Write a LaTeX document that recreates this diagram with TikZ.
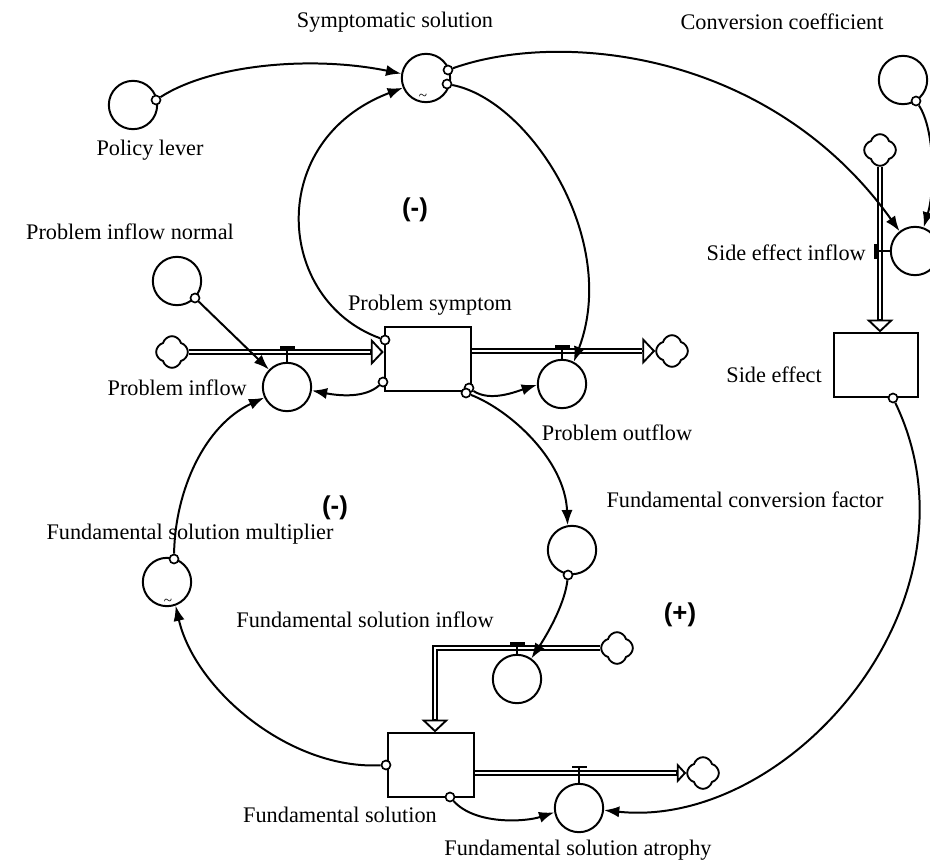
\documentclass[tikz,border=0pt]{standalone}
\usepackage{fontspec}
\setmainfont{Liberation Serif}
\newfontfamily\signfont{Liberation Sans}
\usetikzlibrary{shapes,shapes.symbols,arrows.meta,calc,positioning}

\tikzstyle{line} = [draw, line width=1.7pt, -{Latex[length=13pt,width=9.5pt]}]
\tikzstyle{aux} = [draw, circle, line width=1.7pt, minimum size=1.45cm, inner sep=0pt]
\tikzstyle{stock} = [draw, rectangle, line width=1.6pt, minimum width=2.6cm, minimum height=1.9cm]
\tikzstyle{ring} = [draw, circle, fill=white, line width=1.4pt, minimum size=0.27cm, inner sep=0pt]
\tikzstyle{sky} = [draw, cloud, cloud puffs=4, aspect=1, line width=1.6pt, minimum width=0.95cm, minimum height=0.95cm, inner sep=0pt, fill=white]
\tikzstyle{pipe} = [draw, line width=1.6pt, double=white, double distance=2.4pt]
\tikzstyle{pipetip} = [draw, line width=1.6pt, -{Triangle[open, length=11pt, width=23pt]}]
\tikzstyle{tbar} = [fill=black, rectangle, minimum width=0.45cm, minimum height=0.12cm, inner sep=0pt]
\tikzstyle{lbl} = [font=\fontsize{19}{22}\selectfont, inner sep=0pt]
\tikzstyle{sign} = [font=\signfont\bfseries\fontsize{22}{24}\selectfont, inner sep=0pt]

\begin{document}
\begin{tikzpicture} [x=0.03cm, y=-0.03cm]

        \useasboundingbox (0,0) rectangle (930,867);

        % stocks, valves and converters
        \node[aux] (PL) at (133,105) {};
        \node[aux] (SS) at (426,78) {};
        \node[aux] (CC) at (903,80) {};
        \node[aux] (PIN) at (177,281) {};
        \node[aux] (PI) at (287,387) {};
        \node[stock] (PS) at (428,359) {};
        \node[aux] (PO) at (562,384) {};
        \node[aux] (SEI) at (915,251) {};
        \node[stock, minimum width=2.5cm] (SE) at (876,365) {};
        \node[aux] (FCF) at (572,550) {};
        \node[aux] (FSM) at (167,582) {};
        \node[aux] (FSI) at (517,679) {};
        \node[stock] (FS) at (431,765) {};
        \node[aux] (FSA) at (579,808) {};

        % clouds
        \node[sky] (CL1) at (172,352) {};
        \node[sky] (CL2) at (672,351) {};
        \node[sky] (CL3) at (880,150) {};
        \node[sky] (CL4) at (617,648) {};
        \node[sky] (CL5) at (703,773) {};

        % labels
        \node[lbl] (SSl) at (395,22) {Symptomatic solution};
        \node[lbl] (CCl) at (782,22) {Conversion coefficient};
        \node[lbl] (PLl) at (150,150) {Policy lever};
        \node[lbl] (PINl) at (130,232) {Problem inflow normal};
        \node[lbl, anchor=east] (SEIl) at (866,253) {Side effect inflow};
        \node[lbl] (PSl) at (430,305) {Problem symptom};
        \node[lbl, anchor=east] (PIl) at (247,388) {Problem inflow};
        \node[lbl, anchor=east] (SEl) at (822,375) {Side effect};
        \node[lbl] (POl) at (617,433) {Problem outflow};
        \node[lbl] (FCFl) at (745,500) {Fundamental conversion factor};
        \node[lbl] (FSMl) at (190,534) {Fundamental solution multiplier};
        \node[lbl] (FSIl) at (365,620) {Fundamental solution inflow};
        \node[lbl] (FSl) at (340,815) {Fundamental solution};
        \node[lbl] (FSAl) at (578,850) {Fundamental solution atrophy};
        \node[sign] (L1) at (415,210) {(-)};
        \node[sign] (L2) at (335,508) {(-)};
        \node[sign] (L3) at (680,615) {(+)};
        \node[font=\fontsize{13}{13}\selectfont] (SSt) at (423,97) {\textasciitilde};
        \node[font=\fontsize{13}{13}\selectfont] (FSMt) at (168,602) {\textasciitilde};

        % pipes
        \path[pipe] (CL1) -- ($(PS.west |- CL1)+(-11pt,0)$);
        \path[pipetip] ($(PS.west |- CL1)+(-11.5pt,0)$) -- (PS.west |- CL1);
        \path[pipe] (PS.east |- CL2) -- ($(CL2.west)+(-11pt,0)$);
        \path[pipetip] ($(CL2.west)+(-11.5pt,0)$) -- (CL2.west);
        \path[pipe] (CL3) -- ($(CL3 |- SE.north)+(0,11pt)$);
        \path[pipetip] ($(CL3 |- SE.north)+(0,11.5pt)$) -- (CL3 |- SE.north);
        \coordinate (FSIc) at (435,648);
        \path[pipe] (CL4) -- (FSIc) -- ($(FSIc |- FS.north)+(0,11pt)$);
        \path[pipetip] ($(FSIc |- FS.north)+(0,11.5pt)$) -- (FSIc |- FS.north);
        \path[pipe, line width=2pt, double distance=1.2pt] (FS.east |- CL5) -- ($(CL5.west)+(-8pt,0)$);
        \path[pipetip, -{Triangle[open, length=8pt, width=17pt]}] ($(CL5.west)+(-8.5pt,0)$) -- (CL5.west);

        % valve bars
        \node[tbar, yshift=3.5pt] (PIb) at (PI |- CL1) {};
        \node[tbar, yshift=3.5pt] (POb) at (PO |- CL2) {};
        \node[tbar, yshift=3.5pt] (FSIb) at (FSI |- CL4) {};
        \node[tbar, minimum height=0.06cm, yshift=5pt] (FSAb) at (FSA |- CL5) {};
        \node[tbar, minimum width=0.12cm, minimum height=0.45cm, xshift=-3.5pt] (SEIb) at (SEI -| CL3) {};
        \draw[line width=1.6pt] (PI) -- (PIb);
        \draw[line width=1.6pt] (PO) -- (POb);
        \draw[line width=1.6pt] (FSI) -- (FSIb);
        \draw[line width=1.6pt] (FSA) -- (FSAb);
        \draw[line width=1.6pt] (SEI) -- (SEIb);

        % link origins
        \node[ring] (PLr) at (156,100) {};
        \node[ring] (SSr1) at (448,70) {};
        \node[ring] (SSr2) at (447,84) {};
        \node[ring] (CCr) at (916,101) {};
        \node[ring] (PINr) at (195,298) {};
        \node[ring] (PSr1) at (385,340) {};
        \node[ring] (PSr2) at (383,382) {};
        \node[ring] (PSr3) at (469,388) {};
        \node[ring] (PSr4) at (466,393) {};
        \node[ring] (SEr) at (893,398) {};
        \node[ring] (FCFr) at (568,575) {};
        \node[ring] (FSMr) at (174,559) {};
        \node[ring] (FSr1) at (386,765) {};
        \node[ring] (FSr2) at (450,797) {};

        % links
        \path [line] (PLr) .. controls (210,65) and (310,55) .. (SS.170);
        \path [line] (PSr1) .. controls (275,300) and (265,140) .. (SS.203);
        \path [line] (SSr2) .. controls (530,100) and (620,240) .. (PO.62);
        \path [line] (SSr1) .. controls (560,30) and (770,50) .. (SEI.128);
        \path [line] (CCr) .. controls (935,130) and (935,190) .. (SEI.70);
        \path [line] (PINr) -- (PI);
        \path [line] (PSr2) .. controls (365,398) and (340,396) .. (PI.-8);
        \path [line] (PSr3) .. controls (490,402) and (515,392) .. (PO.182);
        \path [line] (PSr4) .. controls (510,410) and (565,460) .. (FCF.100);
        \path [line] (FCFr) .. controls (565,602) and (550,630) .. (FSI.55);
        \path [line] (FSMr) .. controls (175,490) and (205,425) .. (PI.205);
        \path [line] (FSr1) .. controls (290,770) and (195,690) .. (FSM.-70);
        \path [line] (FSr2) .. controls (475,825) and (525,822) .. (FSA.190);
        \path [line] (SEr) .. controls (990,600) and (790,830) .. (FSA.-5);

\end{tikzpicture}
\end{document}
